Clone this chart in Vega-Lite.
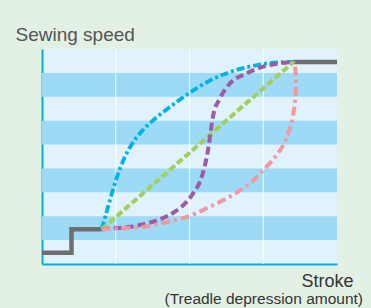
{
 "$schema": "https://vega.github.io/schema/vega-lite/v6.json",
 "width": 295, "height": 215,
 "autosize": {"type": "none"},
 "padding": {"left": 42, "top": 49, "right": 34, "bottom": 44},
 "background": "#e3f1e5",
 "config": {
  "view": {"fill": "#e0f2fb", "stroke": null},
  "font": "Liberation Sans",
  "axis": {"domainColor": "#00aeea", "domainWidth": 2, "ticks": false, "labels": false, "grid": false, "titleFontWeight": "normal"},
  "axisX": {"titleAlign": "right", "titleX": 311, "titleY": 22, "titleBaseline": "alphabetic", "titleFontSize": 18, "titleColor": "#333333"},
  "axisY": {"titleAngle": 0, "titleAlign": "left", "titleX": -27, "titleY": -9, "titleBaseline": "alphabetic", "titleFontSize": 19, "titleColor": "#555555"}
 },
 "title": {"text": "(Treadle depression amount)", "orient": "bottom", "anchor": "end", "frame": "group", "fontSize": 15.5, "fontWeight": "normal", "color": "#333333", "dx": 26, "offset": 2},
 "datasets": {
  "bands": [{"y": 1, "y2": 2}, {"y": 3, "y2": 4}, {"y": 5, "y2": 6}, {"y": 7, "y2": 8}],
  "grid": [{"x": 1}, {"x": 2}, {"x": 3}],
  "curves": [
   {"s": "gray", "seg": "a", "i": 0, "x": 0, "y": 0.47},
   {"s": "gray", "seg": "a", "i": 1, "x": 0.40, "y": 0.47},
   {"s": "gray", "seg": "a", "i": 2, "x": 0.40, "y": 1.45},
   {"s": "gray", "seg": "a", "i": 3, "x": 0.81, "y": 1.45},
   {"s": "gray", "seg": "b", "i": 4, "x": 3.41, "y": 8.46},
   {"s": "gray", "seg": "b", "i": 5, "x": 4, "y": 8.46},

   {"s": "blue", "i": 0, "x": 0.81, "y": 1.45},
   {"s": "blue", "i": 1, "x": 0.895, "y": 2.386},
   {"s": "blue", "i": 2, "x": 0.949, "y": 2.972},
   {"s": "blue", "i": 3, "x": 1.017, "y": 3.642},
   {"s": "blue", "i": 4, "x": 1.105, "y": 4.353},
   {"s": "blue", "i": 5, "x": 1.22, "y": 5.023},
   {"s": "blue", "i": 6, "x": 1.363, "y": 5.588},
   {"s": "blue", "i": 7, "x": 1.519, "y": 6.049},
   {"s": "blue", "i": 8, "x": 1.681, "y": 6.446},
   {"s": "blue", "i": 9, "x": 1.844, "y": 6.823},
   {"s": "blue", "i": 10, "x": 2.007, "y": 7.179},
   {"s": "blue", "i": 11, "x": 2.278, "y": 7.681},
   {"s": "blue", "i": 12, "x": 2.549, "y": 8.037},
   {"s": "blue", "i": 13, "x": 2.82, "y": 8.267},
   {"s": "blue", "i": 14, "x": 3.091, "y": 8.41},
   {"s": "blue", "i": 15, "x": 3.3, "y": 8.455},
   {"s": "blue", "i": 16, "x": 3.41, "y": 8.46},

   {"s": "green", "i": 0, "x": 0.81, "y": 1.45},
   {"s": "green", "i": 1, "x": 3.41, "y": 8.46},

   {"s": "purple", "i": 0, "x": 0.81, "y": 1.45},
   {"s": "purple", "i": 1, "x": 0.899, "y": 1.48},
   {"s": "purple", "i": 2, "x": 1.17, "y": 1.55},
   {"s": "purple", "i": 3, "x": 1.397, "y": 1.68},
   {"s": "purple", "i": 4, "x": 1.623, "y": 1.9},
   {"s": "purple", "i": 5, "x": 1.803, "y": 2.19},
   {"s": "purple", "i": 6, "x": 1.96, "y": 2.6},
   {"s": "purple", "i": 7, "x": 2.07, "y": 3.05},
   {"s": "purple", "i": 8, "x": 2.142, "y": 3.44},
   {"s": "purple", "i": 9, "x": 2.21, "y": 4.14},
   {"s": "purple", "i": 10, "x": 2.255, "y": 4.84},
   {"s": "purple", "i": 11, "x": 2.287, "y": 5.54},
   {"s": "purple", "i": 12, "x": 2.323, "y": 6.24},
   {"s": "purple", "i": 13, "x": 2.414, "y": 6.94},
   {"s": "purple", "i": 14, "x": 2.549, "y": 7.56},
   {"s": "purple", "i": 15, "x": 2.776, "y": 7.98},
   {"s": "purple", "i": 16, "x": 3.0, "y": 8.26},
   {"s": "purple", "i": 17, "x": 3.227, "y": 8.4},
   {"s": "purple", "i": 18, "x": 3.41, "y": 8.46},

   {"s": "pink", "i": 0, "x": 0.81, "y": 1.45},
   {"s": "pink", "i": 1, "x": 0.854, "y": 1.46},
   {"s": "pink", "i": 2, "x": 1.08, "y": 1.49},
   {"s": "pink", "i": 3, "x": 1.397, "y": 1.56},
   {"s": "pink", "i": 4, "x": 1.713, "y": 1.77},
   {"s": "pink", "i": 5, "x": 1.984, "y": 1.99},
   {"s": "pink", "i": 6, "x": 2.278, "y": 2.4},
   {"s": "pink", "i": 7, "x": 2.549, "y": 2.82},
   {"s": "pink", "i": 8, "x": 2.82, "y": 3.38},
   {"s": "pink", "i": 9, "x": 3.024, "y": 4.0},
   {"s": "pink", "i": 10, "x": 3.182, "y": 4.56},
   {"s": "pink", "i": 11, "x": 3.295, "y": 5.12},
   {"s": "pink", "i": 12, "x": 3.386, "y": 5.96},
   {"s": "pink", "i": 13, "x": 3.431, "y": 6.79},
   {"s": "pink", "i": 14, "x": 3.444, "y": 7.5},
   {"s": "pink", "i": 15, "x": 3.44, "y": 8.0},
   {"s": "pink", "i": 16, "x": 3.425, "y": 8.35},
   {"s": "pink", "i": 17, "x": 3.41, "y": 8.46}
  ]
 },
 "layer": [
  {
   "data": {"name": "bands"},
   "mark": {"type": "rect", "color": "#9ddaf6"},
   "encoding": {
    "x": {"datum": 0, "type": "quantitative", "scale": {"domain": [0, 4], "nice": false, "zero": false}, "title": "Stroke"},
    "x2": {"datum": 4},
    "y": {"field": "y", "type": "quantitative", "scale": {"domain": [0, 9], "nice": false, "zero": false}, "title": "Sewing speed"},
    "y2": {"field": "y2"}
   }
  },
  {
   "data": {"name": "grid"},
   "mark": {"type": "rule", "color": "#ffffff", "strokeWidth": 1},
   "encoding": {
    "x": {"field": "x", "type": "quantitative", "title": "Stroke"}
   }
  },
  {
   "data": {"name": "curves"},
   "transform": [{"filter": "datum.s === 'gray'"}],
   "mark": {"type": "line", "color": "#6e6e6e", "strokeWidth": 4.5, "strokeJoin": "miter", "strokeCap": "butt", "clip": false},
   "encoding": {
    "x": {"field": "x", "type": "quantitative", "title": "Stroke"},
    "y": {"field": "y", "type": "quantitative", "title": "Sewing speed"},
    "detail": {"field": "seg"},
    "order": {"field": "i"}
   }
  },
  {
   "data": {"name": "curves"},
   "transform": [{"filter": "datum.s === 'blue'"}],
   "mark": {"type": "line", "color": "#00b2ea", "strokeWidth": 3.8, "strokeDash": [8, 3, 3, 3], "interpolate": "monotone", "clip": false},
   "encoding": {
    "x": {"field": "x", "type": "quantitative", "title": "Stroke"},
    "y": {"field": "y", "type": "quantitative", "title": "Sewing speed"},
    "order": {"field": "i"}
   }
  },
  {
   "data": {"name": "curves"},
   "transform": [{"filter": "datum.s === 'green'"}],
   "mark": {"type": "line", "color": "#a3cf5b", "strokeWidth": 4, "strokeDash": [7, 3], "clip": false},
   "encoding": {
    "x": {"field": "x", "type": "quantitative", "title": "Stroke"},
    "y": {"field": "y", "type": "quantitative", "title": "Sewing speed"},
    "order": {"field": "i"}
   }
  },
  {
   "data": {"name": "curves"},
   "transform": [{"filter": "datum.s === 'purple'"}],
   "mark": {"type": "line", "color": "#9b5ba6", "strokeWidth": 4, "strokeDash": [8, 4], "interpolate": "monotone", "clip": false},
   "encoding": {
    "x": {"field": "x", "type": "quantitative", "title": "Stroke"},
    "y": {"field": "y", "type": "quantitative", "title": "Sewing speed"},
    "order": {"field": "i"}
   }
  },
  {
   "data": {"name": "curves"},
   "transform": [{"filter": "datum.s === 'pink'"}],
   "mark": {"type": "line", "color": "#f4979f", "strokeWidth": 4, "strokeDash": [9, 4, 3, 4], "interpolate": "catmull-rom", "clip": false},
   "encoding": {
    "x": {"field": "x", "type": "quantitative", "title": "Stroke"},
    "y": {"field": "y", "type": "quantitative", "title": "Sewing speed"},
    "order": {"field": "i"}
   }
  }
 ]
}
